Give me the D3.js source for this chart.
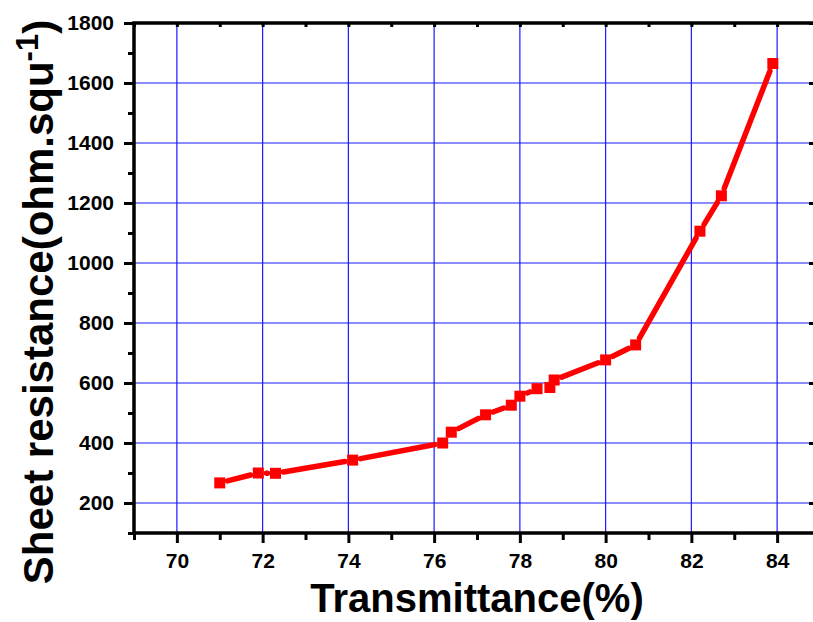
<!DOCTYPE html>
<html>
<head>
<meta charset="utf-8">
<script src="https://cdn.jsdelivr.net/npm/d3@7"></script>
<style>
  html, body { margin: 0; padding: 0; background: #fff; }
  svg text { font-family: "Liberation Sans", Arial, sans-serif; font-weight: bold; }
</style>
</head>
<body>
<svg id="chart" width="813" height="622"></svg>
<script>
// Transmittance (%) of each film and its measured sheet resistance (ohm/sq)
const transmittance = [71.0, 71.9, 72.3, 74.1, 76.2, 76.4, 77.2, 77.8, 78.0, 78.4, 78.7, 78.8, 80.0, 80.7, 82.2, 82.7, 83.9];
const sheetResistance = [267, 300, 299, 343, 400, 436, 494, 526, 556, 581, 585, 610, 677, 727, 1106, 1224, 1665];

const xTicks = [70, 72, 74, 76, 78, 80, 82, 84];
const xMinorTicks = [69, 71, 73, 75, 77, 79, 81, 83, 85];
const yTicks = [200, 400, 600, 800, 1000, 1200, 1400, 1600, 1800];
const yMinorTicks = [100, 300, 500, 700, 900, 1100, 1300, 1500, 1700];

const svg = d3.select("#chart");
const plotL = 134, plotR = 820, plotT = 23, plotB = 533;

const x = d3.scaleLinear().domain([69, 85]).range([plotL, plotR]);
const y = d3.scaleLinear().domain([100, 1800]).range([plotB, plotT]);

// grid
const grid = svg.append("g").attr("stroke", "#1a1aff").attr("stroke-width", 1.2);
grid.selectAll("line.gx").data(xTicks).join("line")
  .attr("x1", d => x(d)).attr("x2", d => x(d)).attr("y1", plotT).attr("y2", plotB);
grid.selectAll("line.gy").data(yTicks.filter(d => d < 1800)).join("line")
  .attr("x1", plotL).attr("x2", plotR).attr("y1", d => y(d)).attr("y2", d => y(d));

// axes
const tickStyle = g => {
  g.select(".domain").remove();
  g.selectAll(".tick line").attr("stroke", "#000").attr("stroke-width", 3);
  g.selectAll(".tick text").attr("fill", "#000").style("font-size", "21px");
};

svg.append("g").attr("transform", `translate(0,${plotB})`)
  .call(d3.axisBottom(x).tickValues(xMinorTicks).tickSize(7).tickFormat(""))
  .call(tickStyle);
svg.append("g").attr("transform", `translate(0,${plotB})`)
  .call(d3.axisBottom(x).tickValues(xTicks).tickSize(10).tickPadding(10).tickFormat(d3.format("d")))
  .call(tickStyle);

svg.append("g").attr("transform", `translate(${plotL},0)`)
  .call(d3.axisLeft(y).tickValues(yMinorTicks).tickSize(6).tickFormat(""))
  .call(tickStyle);
svg.append("g").attr("transform", `translate(${plotL},0)`)
  .call(d3.axisLeft(y).tickValues(yTicks).tickSize(10).tickPadding(10).tickFormat(d3.format("d")))
  .call(tickStyle);

// top and right axes, ticks pointing inward
svg.append("g").attr("transform", `translate(0,${plotT})`)
  .call(d3.axisBottom(x).tickValues(xTicks.concat(xMinorTicks)).tickSize(4).tickFormat(""))
  .call(tickStyle);
svg.append("g").attr("transform", `translate(${plotR},0)`)
  .call(d3.axisLeft(y).tickValues(yTicks).tickSize(11).tickFormat(""))
  .call(tickStyle);

// frame
svg.append("rect")
  .attr("x", plotL).attr("y", plotT).attr("width", plotR - plotL).attr("height", plotB - plotT)
  .attr("fill", "none").attr("stroke", "#000").attr("stroke-width", 3.5);

// data: line segments trimmed back from each marker, then square markers
const pts = transmittance.map((t, i) => [x(t), y(sheetResistance[i])]);
const gap = 8;
const segs = [];
for (let i = 0; i < pts.length - 1; i++) {
  const [x1, y1] = pts[i], [x2, y2] = pts[i + 1];
  const len = Math.hypot(x2 - x1, y2 - y1);
  if (len <= 2 * gap) continue;
  const ux = (x2 - x1) / len, uy = (y2 - y1) / len;
  segs.push([x1 + ux * gap, y1 + uy * gap, x2 - ux * gap, y2 - uy * gap]);
}
svg.append("g").selectAll("line").data(segs).join("line")
  .attr("x1", d => d[0]).attr("y1", d => d[1]).attr("x2", d => d[2]).attr("y2", d => d[3])
  .attr("stroke", "#ff0000").attr("stroke-width", 5.5).attr("stroke-linecap", "round");

const m = 11;
svg.append("g").selectAll("rect").data(transmittance).join("rect")
  .attr("x", (d, i) => x(d) - m / 2)
  .attr("y", (d, i) => y(sheetResistance[i]) - m / 2)
  .attr("width", m).attr("height", m)
  .attr("fill", "#ff0000");

// axis titles
svg.append("text")
  .attr("x", 477).attr("y", 612)
  .attr("text-anchor", "middle")
  .style("font-size", "40px")
  .text("Transmittance(%)");

const yt = svg.append("text")
  .attr("transform", "translate(53,302) rotate(-90)")
  .attr("text-anchor", "middle")
  .style("font-size", "42px");
yt.append("tspan").text("Sheet resistance(ohm.squ");
yt.append("tspan").attr("dy", "-0.5em").style("font-size", "31px").text("-1");
yt.append("tspan").attr("dy", "0.36em").text(")");
</script>
</body>
</html>
